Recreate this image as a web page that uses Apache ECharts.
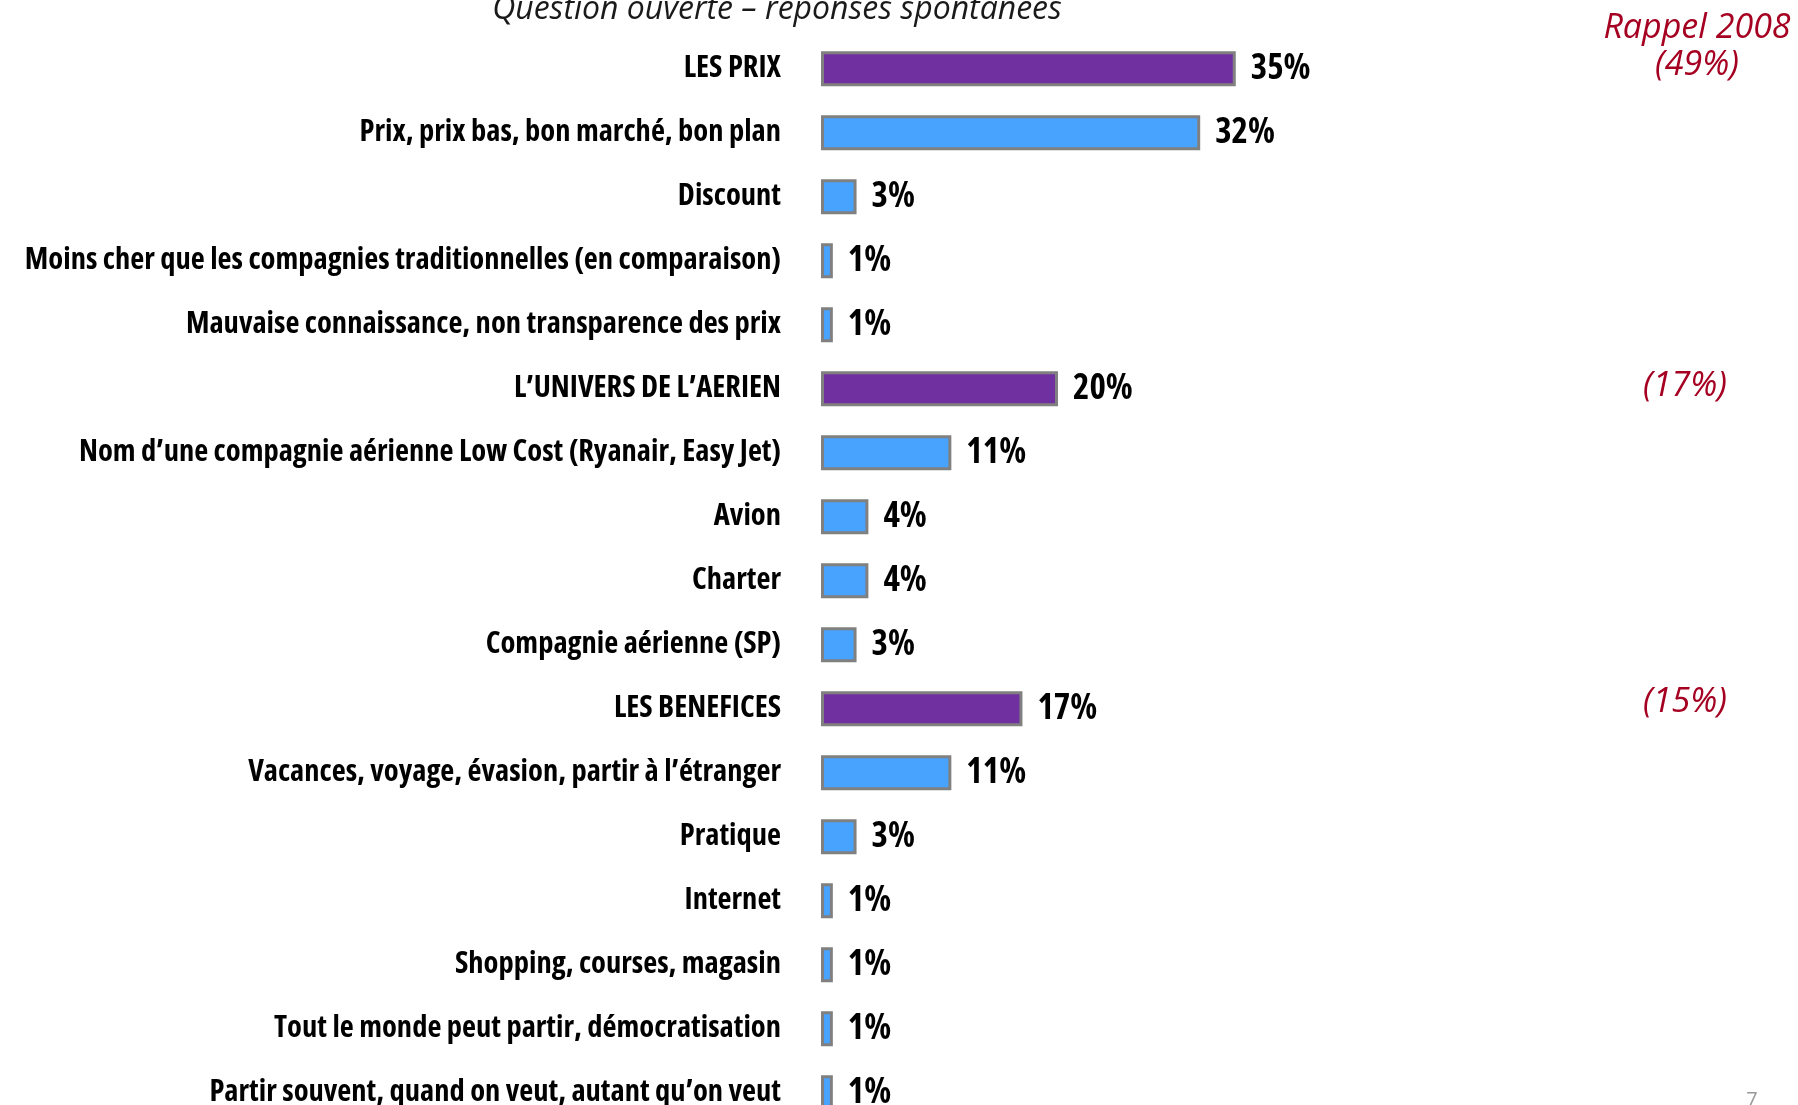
<!DOCTYPE html>
<html>
<head>
<meta charset="utf-8">
<script src="https://cdn.jsdelivr.net/npm/echarts@6/dist/echarts.min.js"></script>
<style>
    html, body { margin: 0; padding: 0; background: #fff; }
    #chart { width: 1798px; height: 1105px; }
</style>
</head>
<body>
<div id="chart"></div>
<script>
    // categories, top to bottom
    var categories = [
        'LES PRIX',
        'Prix, prix bas, bon marché, bon plan',
        'Discount',
        'Moins cher que les compagnies traditionnelles (en comparaison)',
        'Mauvaise connaissance, non transparence des prix',
        'L’UNIVERS DE L’AERIEN',
        'Nom d’une compagnie aérienne Low Cost (Ryanair, Easy Jet)',
        'Avion',
        'Charter',
        'Compagnie aérienne (SP)',
        'LES BENEFICES',
        'Vacances, voyage, évasion, partir à l’étranger',
        'Pratique',
        'Internet',
        'Shopping, courses, magasin',
        'Tout le monde peut partir, démocratisation',
        'Partir souvent, quand on veut, autant qu’on veut'
    ];
    var values = [35, 32, 3, 1, 1, 20, 11, 4, 4, 3, 17, 11, 3, 1, 1, 1, 1];
    // rows that are group headings
    var groupRows = [0, 5, 10];
    var rappelLabels = ['(49%)', '(17%)', '(15%)'];

    var chart = echarts.init(document.getElementById('chart'));

    var barData = values.map(function (v, i) {
        var isGroup = groupRows.indexOf(i) >= 0;
        return {
            value: v,
            itemStyle: {color: isGroup ? '#7030A0' : '#47A3FE'}
        };
    });

    var redFont = 'italic 34px "Open Sans", sans-serif';

    var option = {
        backgroundColor: '#fff',
        animation: false,
        grid: {
            left: 821,
            top: 36.8,
            width: 592.5,
            height: 1088,
            outerBoundsMode: 'none',
            containLabel: false
        },
        xAxis: {
            type: 'value',
            min: 0,
            max: 50,
            show: false
        },
        yAxis: {
            type: 'category',
            inverse: true,
            data: categories,
            axisLine: {show: false},
            axisTick: {show: false},
            axisLabel: {
                margin: 40,
                color: '#000',
                fontFamily: '"Open Sans", sans-serif',
                fontWeight: 'bold condensed',
                fontSize: 30.5
            }
        },
        series: [{
            type: 'bar',
            data: barData,
            barWidth: 35,
            itemStyle: {
                borderColor: '#808080',
                borderWidth: 3
            },
            label: {
                show: true,
                position: 'right',
                distance: 15,
                formatter: '{c}%',
                color: '#000',
                fontFamily: '"Open Sans", sans-serif',
                fontWeight: 'bold condensed',
                fontSize: 35
            }
        }],
        graphic: [
            {
                type: 'text',
                style: {
                    text: 'Question ouverte – réponses spontanées',
                    x: 777,
                    y: 10,
                    align: 'center',
                    verticalAlign: 'middle',
                    fill: '#1a1a1a',
                    font: 'italic 32px "Open Sans", sans-serif'
                }
            },
            {
                type: 'text',
                style: {
                    text: 'Rappel 2008',
                    x: 1697, y: 28,
                    align: 'center', verticalAlign: 'middle',
                    fill: '#A50021',
                    font: redFont
                }
            },
            {
                type: 'text',
                style: {
                    text: rappelLabels[0],
                    x: 1697, y: 65,
                    align: 'center', verticalAlign: 'middle',
                    fill: '#A50021',
                    font: redFont
                }
            },
            {
                type: 'text',
                style: {
                    text: rappelLabels[1],
                    x: 1685, y: 386,
                    align: 'center', verticalAlign: 'middle',
                    fill: '#A50021',
                    font: redFont
                }
            },
            {
                type: 'text',
                style: {
                    text: rappelLabels[2],
                    x: 1685, y: 702,
                    align: 'center', verticalAlign: 'middle',
                    fill: '#A50021',
                    font: redFont
                }
            },
            {
                type: 'text',
                style: {
                    text: '7',
                    x: 1752, y: 1100,
                    align: 'center', verticalAlign: 'middle',
                    fill: '#999',
                    font: '20px "Open Sans", sans-serif'
                }
            }
        ]
    };

    chart.setOption(option);
</script>
</body>
</html>
